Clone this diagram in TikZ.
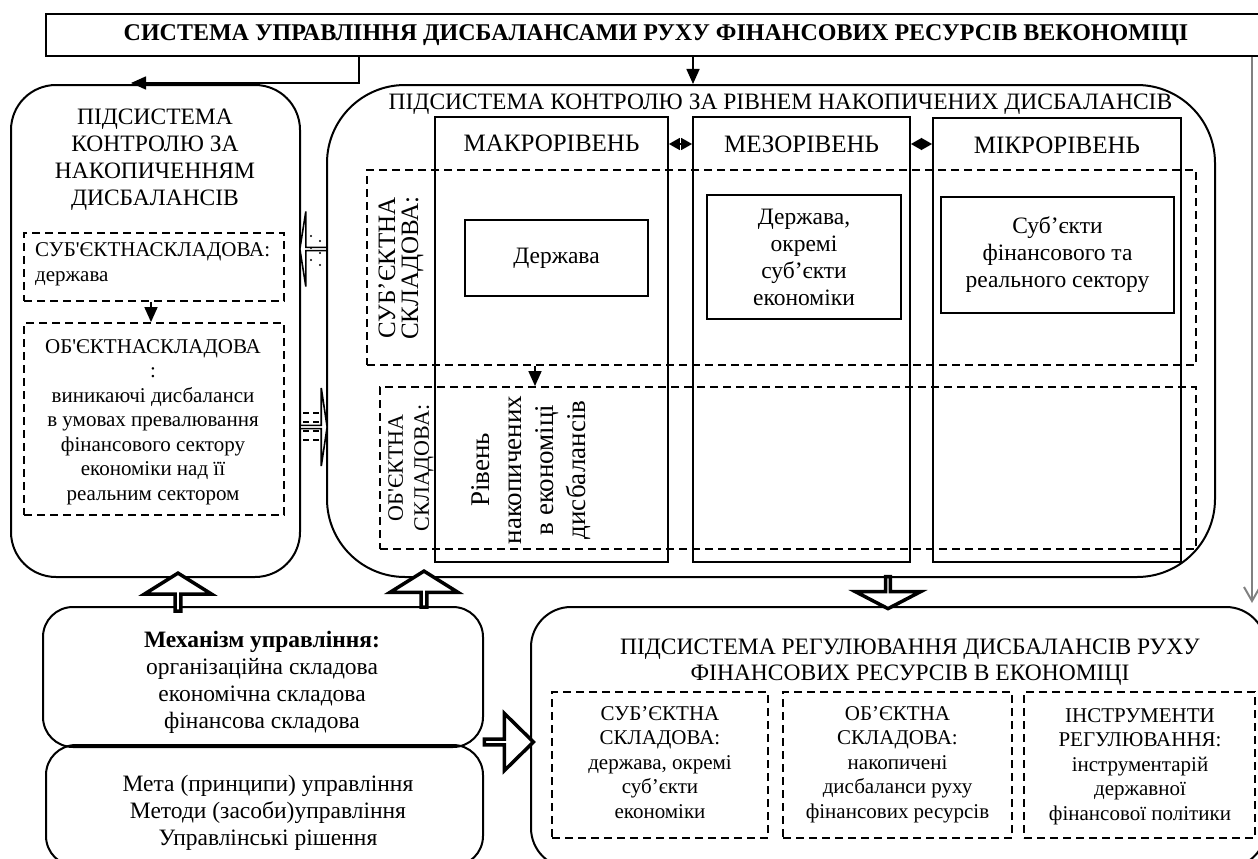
\documentclass[tikz,border=0pt]{standalone}
\usepackage{fontspec}
\setmainfont{Liberation Serif}
\usetikzlibrary{arrows.meta,shapes.arrows}

\newcommand{\fsmall}{\fontsize{21}{24.5}\selectfont}
\newcommand{\fmid}{\fontsize{23.5}{27}\selectfont}
\newcommand{\fhead}{\fontsize{25}{29}\selectfont}
\newcommand{\fbig}{\fontsize{27}{32}\selectfont}

\tikzset{
  frame/.style={draw, line width=2pt, inner sep=0pt},
  col/.style={draw, line width=1.8pt, inner sep=0pt},
  dashbox/.style={draw, line width=1.8pt, dash pattern=on 8pt off 5pt, inner sep=0pt},
  innerbox/.style={draw, line width=1.8pt, inner sep=0pt, align=center, font=\fmid},
  txt/.style={inner sep=0pt, align=center},
  tri/.style={line width=1.6pt, -{Triangle[length=15pt,width=13pt]}},
  dbl/.style={line width=1.6pt, {Triangle[length=11pt,width=12pt]}-{Triangle[length=11pt,width=12pt]}},
  blockarrow/.style={single arrow, draw, line width=3.5pt, fill=white, inner sep=0pt},
  hatarrow/.style={single arrow, draw, line width=1.6pt, fill=white, inner sep=0pt}
}

\begin{document}
\begin{tikzpicture}[x=1pt,y=-1pt]
\useasboundingbox (0,0) rectangle (1258,859);

% title
\node[frame, minimum width=1220, minimum height=42, font=\bfseries\fontsize{24}{28}\selectfont] (title) at (656,35) {СИСТЕМА УПРАВЛІННЯ ДИСБАЛАНСАМИ РУХУ ФІНАНСОВИХ РЕСУРСІВ ВЕКОНОМІЦІ};

% accumulation subsystem
\node[frame, rounded corners=45pt, minimum width=289, minimum height=492] (accum) at (155.5,331) {};
\node[txt, font=\fmid, anchor=base] (accumT) at (155,205) {ПІДСИСТЕМА\\КОНТРОЛЮ ЗА\\НАКОПИЧЕННЯМ\\ДИСБАЛАНСІВ};
\node[dashbox, minimum width=260, minimum height=68] (subjL) at (154,267) {};
\node[txt, font=\fsmall, anchor=base west, align=left] (subjLT) at (35,281) {СУБ\textquotesingle ЄКТНАСКЛАДОВА:\\держава};
\node[dashbox, minimum width=260, minimum height=192] (objL) at (154,419) {};
\node[txt, font=\fsmall, anchor=base] (objLT) at (153,500) {ОБ\textquotesingle ЄКТНАСКЛАДОВА\\:\\виникаючі дисбаланси\\в умовах превалювання\\фінансового сектору\\економіки над її\\реальним сектором};
\coordinate (xa) at (151,0);
\draw[tri] (subjL.south -| xa) -- (objL.north -| xa);

% level subsystem
\node[frame, rounded corners=78pt, minimum width=888, minimum height=492] (level) at (771,331) {};
\node[txt, font=\fmid, anchor=base] (levelT) at (780.5,110) {ПІДСИСТЕМА КОНТРОЛЮ ЗА РІВНЕМ НАКОПИЧЕНИХ ДИСБАЛАНСІВ};
\node[col, minimum width=233, minimum height=445] (macro) at (551.5,339.5) {};
\node[col, minimum width=217, minimum height=445] (meso) at (801.5,339.5) {};
\node[col, minimum width=248, minimum height=444] (micro) at (1057,340) {};
\node[txt, font=\fhead, anchor=base] (macroT) at (551.5,151) {МАКРОРІВЕНЬ};
\node[txt, font=\fhead, anchor=base] (mesoT) at (801.5,152) {МЕЗОРІВЕНЬ};
\node[txt, font=\fhead, anchor=base] (microT) at (1057,153) {МІКРОРІВЕНЬ};
\coordinate (hdr) at (0,144);
\draw[dbl] (macro.east |- hdr) -- (meso.west |- hdr);
\draw[dbl] (meso.east |- hdr) -- (micro.west |- hdr);

\node[dashbox, minimum width=829, minimum height=195] (subjrow) at (781.5,267.5) {};
\node[dashbox, minimum width=816, minimum height=162] (objrow) at (788,468) {};
\node[txt, font=\fontsize{25}{23}\selectfont, rotate=90] (subjrowT) at (401,268) {СУБ’ЄКТНА\\СКЛАДОВА:};
\node[txt, font=\fontsize{22}{26}\selectfont, rotate=90] (objrowT) at (411,468) {ОБ\textquotesingle ЄКТНА\\СКЛАДОВА:};
\node[innerbox, minimum width=183, minimum height=76] (stMacro) at (556.5,258) {Держава};
\node[innerbox, minimum width=194, minimum height=124] (stMeso) at (804,257) {Держава,\\окремі\\суб’єкти\\економіки};
\node[innerbox, minimum width=233, minimum height=116] (stMicro) at (1057.5,255) {Суб’єкти\\фінансового та\\реального сектору};
\node[txt, font=\fbig, rotate=90] (levelMacro) at (531,470) {Рівень\\накопичених\\в економіці\\дисбалансів};
\coordinate (xb) at (535,0);
\draw[tri] (subjrow.south -| xb) -- (objrow.north -| xb);

% links from the title
\coordinate (t1) at (359,0);
\coordinate (t1end) at (131,83);
\draw[tri] (title.south -| t1) |- (t1end);
\coordinate (t2) at (693,0);
\draw[tri] (title.south -| t2) -- (level.north -| t2);
\coordinate (g) at (1252,0);
\coordinate (gend) at (1252,603);
\draw[gray, line width=2pt, -{Straight Barb[length=14pt,width=16pt]}] (title.south -| g) -- (gend);

% management mechanism
\node[frame, rounded corners=30pt, minimum width=440, minimum height=140] (mech) at (263,677) {};
\node[txt, font=\fmid, anchor=base] (mechT) at (262,728) {\textbf{Механізм управління:}\\організаційна складова\\економічна складова\\фінансова складова};
\node[frame, rounded corners=30pt, minimum width=437, minimum height=121] (goals) at (264.5,805.5) {};
\node[txt, font=\fmid, anchor=base] (goalsT) at (268,845) {Мета (принципи) управління\\Методи (засоби)управління\\Управлінські рішення};

% regulation subsystem
\node[frame, rounded corners=40pt, minimum width=735, minimum height=261] (reg) at (898.5,737.5) {};
\node[txt, font=\fontsize{23.5}{25.5}\selectfont, anchor=base] (regT) at (910,680) {ПІДСИСТЕМА РЕГУЛЮВАННЯ ДИСБАЛАНСІВ РУХУ\\ФІНАНСОВИХ РЕСУРСІВ В ЕКОНОМІЦІ};
\node[dashbox, minimum width=216, minimum height=146] (regA) at (660,765) {};
\node[dashbox, minimum width=229, minimum height=146] (regB) at (897.5,765) {};
\node[dashbox, minimum width=231, minimum height=146] (regC) at (1139.5,765) {};
\node[txt, font=\fsmall, anchor=base] (regAT) at (660,818) {СУБ’ЄКТНА\\СКЛАДОВА:\\держава, окремі\\суб’єкти\\економіки};
\node[txt, font=\fsmall, anchor=base] (regBT) at (897.5,818) {ОБ’ЄКТНА\\СКЛАДОВА:\\накопичені\\дисбаланси руху\\фінансових ресурсів};
\node[txt, font=\fsmall, anchor=base] (regCT) at (1140,820) {ІНСТРУМЕНТИ\\РЕГУЛЮВАННЯ:\\інструментарій\\державної\\фінансової політики};

% block arrows
\node[blockarrow, rotate=90, minimum height=38, minimum width=67, single arrow head extend=18.5, single arrow tip angle=116] (up1) at (178,593) {};
\node[blockarrow, rotate=90, minimum height=36, minimum width=68, single arrow head extend=19, single arrow tip angle=116] (up2) at (424,590) {};
\node[blockarrow, rotate=-90, minimum height=32, minimum width=65, single arrow head extend=21.5, single arrow tip angle=125] (down1) at (888,592) {};
\node[blockarrow, minimum height=49, minimum width=57, single arrow head extend=16, single arrow tip angle=89] (right1) at (507.5,742) {};
\node[hatarrow, rotate=180, minimum height=27, minimum width=75, single arrow head extend=18.5, single arrow tip angle=162] (hatL) at (313.5,249) {};
\node[hatarrow, minimum height=27, minimum width=78, single arrow head extend=19, single arrow tip angle=163] (hatR) at (313.5,427) {};
% fill of the two small arrows
\foreach \y in {236,248,260} {
  \fill (311,\y) circle (1.1pt);
  \fill (320,\y+5) circle (1.1pt);
}
\foreach \y in {413,422,431,440} {
  \draw[line width=1.6pt] (303,\y) -- (309,\y);
  \draw[line width=1.6pt] (313,\y) -- (319,\y);
}
\end{tikzpicture}
\end{document}
